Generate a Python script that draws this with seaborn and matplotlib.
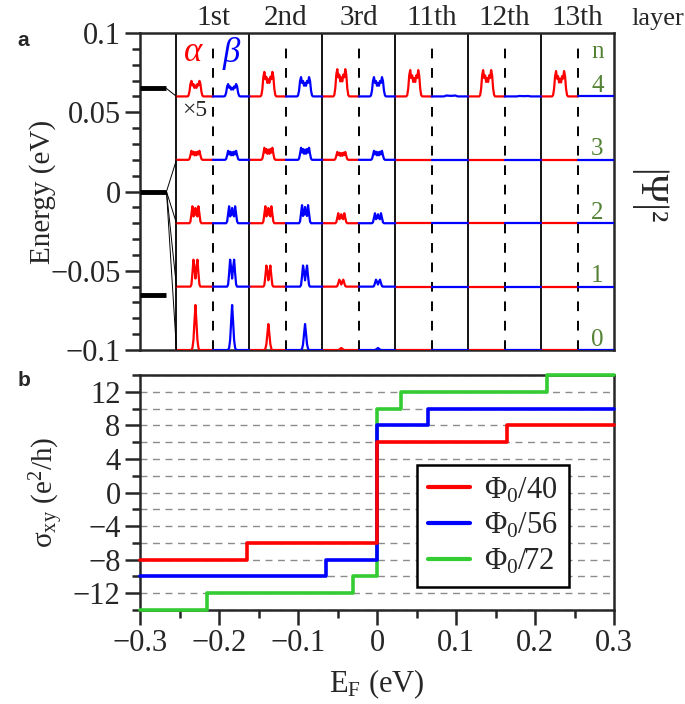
import numpy as np
import pandas as pd
import matplotlib
matplotlib.use('Agg')
import matplotlib.pyplot as plt
from matplotlib.ticker import MultipleLocator
import matplotlib.transforms as mtransforms
import seaborn as sns

# ---------------- data: panel a ----------------
layer_names = ['1st', '2nd', '3rd', '11th', '12th', '13th']
level_n = ['0', '1', '2', '3', '4']
baseline_E = [-0.1, -0.06, -0.02, 0.02, 0.06]

# peak height of |psi|^2 drawn on the energy axis (eV), rows = n, cols = layer
amp_alpha = [
    [0.0284, 0.0164, 0.0013, 0.0, 0.0, 0.0],
    [0.0170, 0.0133, 0.0044, 0.0, 0.0, 0.0],
    [0.0107, 0.0107, 0.0063, 0.0, 0.0, 0.0],
    [0.0057, 0.0076, 0.0050, 0.0, 0.0, 0.0],
    [0.0098, 0.0155, 0.0172, 0.0166, 0.0166, 0.0160],
]
amp_beta = [
    [0.0284, 0.0164, 0.0013, 0.0, 0.0, 0.0],
    [0.0170, 0.0133, 0.0044, 0.0, 0.0, 0.0],
    [0.0107, 0.0114, 0.0063, 0.0, 0.0, 0.0],
    [0.0057, 0.0076, 0.0057, 0.0, 0.0, 0.0],
    [0.0078, 0.0122, 0.0122, 0.0006, 0.0003, 0.0],
]

# relative profile shapes (one sample per pixel)
prof_n0 = [0, 0.05, 0.22, 0.62, 1.0, 0.62, 0.22, 0.05, 0]
prof_n1 = [0, 0.08, 0.5, 1.0, 0.7, 0.3, 0.7, 1.0, 0.5, 0.08, 0]
prof_n2 = [0, 0.1, 0.55, 1.0, 0.4, 0.5, 0.9, 0.5, 0.4, 1.0, 0.55, 0.1, 0]
prof_n3 = [0, 0.1, 0.5, 1.0, 0.6, 0.9, 0.5, 0.85, 0.5, 0.9, 0.6, 1.0, 0.5, 0.1, 0]
prof_n4 = [0, 0.05, 0.3, 0.8, 1.0, 0.7, 0.8, 0.55, 0.7, 0.55, 0.8, 0.7, 1.0, 0.8, 0.3, 0.05, 0]
profiles = [prof_n0, prof_n1, prof_n2, prof_n3, prof_n4]

# Landau levels on the left and where they connect
level_E = [0.065, 0.0, -0.065]
conn_from = [0.065, 0.0, 0.0, 0.0, 0.0]
conn_to = [0.06, 0.02, -0.02, -0.06, -0.1]
ytick_E = [0.1, 0.05, 0.0, -0.05, -0.1]
ytick_E_lab = ['0.1', '0.05', '0', '\u22120.05', '\u22120.1']

# ---------------- data: panel b ----------------
ef_40 = [-0.3, -0.165, 0.0, 0.165, 0.3]
sxy_40 = [-8, -6, 6, 8, 8]
ef_56 = [-0.3, -0.065, 0.0, 0.065, 0.3]
sxy_56 = [-10, -8, 8, 10, 10]
ef_72 = [-0.3, -0.215, -0.03, 0.0, 0.03, 0.215, 0.3]
sxy_72 = [-14, -12, -10, 10, 12, 14, 14]
xtick_ef = [-0.3, -0.2, -0.1, 0.0, 0.1, 0.2, 0.3]
xtick_ef_lab = ['\u22120.3', '\u22120.2', '\u22120.1', '0', '0.1', '0.2', '0.3']
ytick_s = [-12, -8, -4, 0, 4, 8, 12]
ytick_s_lab = ['\u221212', '\u22128', '\u22124', '0', '4', '8', '12']

RED, BLUE, GREEN, OLIVE = '#ff0000', '#0000ff', '#33cc33', '#548235'

sns.set_style('ticks')
plt.rcParams['font.family'] = ['Liberation Serif', 'DejaVu Serif']
plt.rcParams['mathtext.fontset'] = 'custom'
plt.rcParams['mathtext.rm'] = 'Liberation Serif'
plt.rcParams['mathtext.it'] = 'Liberation Serif:italic'
plt.rcParams['axes.unicode_minus'] = True

fig = plt.figure(figsize=(6.85, 7.04), dpi=100)
ax1 = fig.add_axes([0.2044, 0.5028, 0.692, 0.4503])
ax2 = fig.add_axes([0.2044, 0.1335, 0.692, 0.3338])

# ---------- panel a: build the traces ----------
step = 1.0 / 73  # one pixel in layer-width units
rows = []
tid = 0
for n in range(5):
    prof = np.array(profiles[n])
    offs = (np.arange(len(prof)) - (len(prof) - 1) / 2) * step
    for li in range(len(layer_names)):
        for spin, amps, x0, xc in (('alpha', amp_alpha, 0.0, 0.26), ('beta', amp_beta, 0.5, 0.763)):
            xs = np.concatenate([[li + x0], li + xc + offs, [li + x0 + 0.5]])
            ys = np.concatenate([[baseline_E[n]], baseline_E[n] + amps[n][li] * prof, [baseline_E[n]]])
            for x, y in zip(xs, ys):
                rows.append({'x': x, 'E': y, 'spin': spin, 'trace': tid})
            tid += 1
df = pd.DataFrame(rows)

sns.lineplot(data=df, x='x', y='E', hue='spin', units='trace', estimator=None,
             sort=False, palette={'alpha': RED, 'beta': BLUE}, lw=1.6,
             legend=False, ax=ax1, zorder=3)

# layer separators
ax1.vlines(range(len(layer_names)), -0.1, 0.1, color='black', lw=1.3, zorder=2)
ax1.vlines(np.arange(len(layer_names)) + 0.5, -0.1, 0.094, color='black', lw=1.4,
           linestyles=(0, (5, 5)), zorder=2)

# Landau levels and connections
ax1.hlines(level_E, -0.5, -0.137, color='black', lw=3.5, zorder=4)
for e0, e1 in zip(conn_from, conn_to):
    ax1.plot([-0.137, 0.0], [e0, e1], color='black', lw=0.7, zorder=4)

ax1.set_xlim(-0.5, 6)
ax1.set_ylim(-0.1, 0.1)
ax1.set_xticks([])
ax1.set_yticks(ytick_E, ytick_E_lab)
ax1.yaxis.set_minor_locator(MultipleLocator(0.01))
ax1.tick_params(axis='y', which='major', direction='out', length=11, width=1.8,
                labelsize=22, pad=3)
ax1.tick_params(axis='y', which='minor', direction='out', length=6, width=1.8)
for s in ax1.spines.values():
    s.set_linewidth(1.8)
ax1.set_xlabel('')
ax1.set_ylabel('Energy (eV)', fontsize=21)
ax1.yaxis.set_label_coords(-0.177, 0.5)

trans = mtransforms.blended_transform_factory(ax1.transData, ax1.transAxes)
for li, name in enumerate(layer_names):
    ax1.text(li + 0.5, 1.025, name, transform=trans, ha='center', va='baseline', fontsize=21)
ax1.text(6.6, 1.025, 'layer', transform=trans, ha='center', va='baseline', fontsize=19,
         clip_on=False)

ax1.text(0.233, 0.088, '\u03b1', color=RED, fontsize=25, style='italic', ha='center', va='center')
ax1.text(0.753, 0.087, '\u03b2', color=BLUE, fontsize=25, style='italic', ha='center', va='center')
ax1.text(0.25, 0.0514, '\u00d75', fontsize=17, ha='center', va='center')

ax1.text(5.77, 0.0845, 'n', color=OLIVE, fontsize=18, ha='center', va='baseline')
for n, e in zip(level_n, baseline_E):
    ax1.text(5.77, e + 0.0028, n, color=OLIVE, fontsize=18, ha='center', va='baseline')

fig.text(0.946, 0.72, '|\u03a8|\u00b2', rotation=-90, fontsize=28, ha='center', va='center')

# ---------- panel b ----------
sns.lineplot(x=ef_72, y=sxy_72, drawstyle='steps-post', color=GREEN, lw=2.6,
             label='\u03a6$_0$/72', ax=ax2, clip_on=False, zorder=3)
sns.lineplot(x=ef_56, y=sxy_56, drawstyle='steps-post', color=BLUE, lw=2.6,
             label='\u03a6$_0$/56', ax=ax2, clip_on=False, zorder=4)
sns.lineplot(x=ef_40, y=sxy_40, drawstyle='steps-post', color=RED, lw=2.6,
             label='\u03a6$_0$/40', ax=ax2, clip_on=False, zorder=5)

ax2.set_xlim(-0.3, 0.3)
ax2.set_ylim(-14, 14)
ax2.set_xticks(xtick_ef, xtick_ef_lab)
ax2.set_yticks(ytick_s, ytick_s_lab)
ax2.xaxis.set_minor_locator(MultipleLocator(0.05))
ax2.yaxis.set_minor_locator(MultipleLocator(2))
ax2.tick_params(which='major', direction='out', length=11, width=1.8, labelsize=22, pad=3)
ax2.tick_params(which='minor', direction='out', length=6, width=1.8)
for s in ax2.spines.values():
    s.set_linewidth(1.8)
ax2.grid(axis='y', which='both', ls=(0, (5, 4)), color='#8c8c8c', lw=1.0)
ax2.set_xlabel('E$_\\mathrm{F}$ (eV)', fontsize=22)
ax2.xaxis.set_label_coords(0.5, -0.245)
ax2.set_ylabel('\u03c3$_\\mathrm{xy}$ (e$^2$/h)', fontsize=21)
ax2.yaxis.set_label_coords(-0.156, 0.5)

h, l = ax2.get_legend_handles_labels()
leg = ax2.legend(h[::-1], l[::-1], loc='lower left', bbox_to_anchor=(0.584, 0.098),
                 fontsize=22, frameon=True, fancybox=False, framealpha=1,
                 edgecolor='black', handlelength=1.4, handletextpad=0.45,
                 labelspacing=0.2, borderpad=0.35, borderaxespad=0)
leg.get_frame().set_linewidth(1.8)
for line in leg.get_lines():
    line.set_linewidth(3)

fig.text(0.026, 0.943, 'a', fontsize=15, fontweight='bold', family='Liberation Sans',
         ha='left', va='center')
fig.text(0.026, 0.46, 'b', fontsize=15, fontweight='bold', family='Liberation Sans',
         ha='left', va='center')

fig.savefig('out.png', dpi=100)
